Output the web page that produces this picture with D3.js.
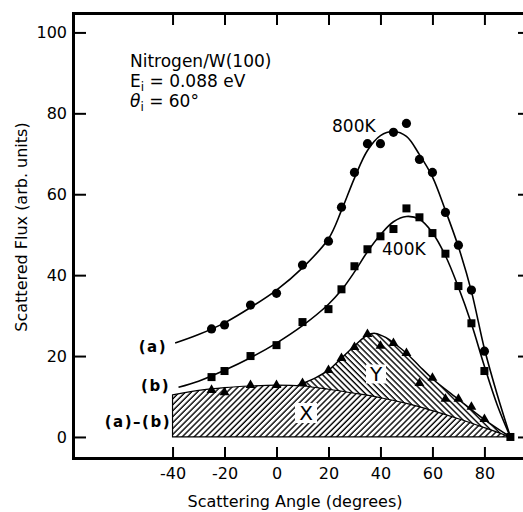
<!DOCTYPE html>
<html>
<head>
<meta charset="utf-8">
<script src="https://cdn.jsdelivr.net/npm/d3@7"></script>
<style>
  body { margin: 0; background: #fff; }
  text { font-family: "DejaVu Sans", sans-serif; fill: #000; }
</style>
</head>
<body>
<script>
const angles800 = [-25, -20, -10, 0, 10, 20, 25, 30, 35, 40, 45, 50, 55, 60, 65, 70, 75, 80];
const flux800 = [26.7, 27.7, 32.6, 35.5, 42.5, 48.4, 56.8, 65.4, 72.5, 72.5, 75.3, 77.5, 68.6, 65.4, 55.5, 47.4, 36.3, 21.2];

const angles400 = [-25, -20, -10, 0, 10, 20, 25, 30, 35, 40, 45, 50, 55, 60, 65, 70, 75, 80, 90];
const flux400 = [14.8, 16.3, 20, 22.7, 28.4, 31.6, 36.5, 42.2, 46.4, 49.6, 51.4, 56.5, 54.3, 50.4, 45.3, 37.3, 28.1, 16.3, 0];

const anglesDiff = [-25, -20, -10, 0, 10, 20, 25, 30, 35, 40, 45, 50, 55, 60, 65, 70, 75, 80];
const fluxDiff = [11.6, 11, 12.8, 12.8, 13.3, 16.5, 19.5, 22.2, 25.4, 22.5, 23.2, 20.7, 13.3, 14.6, 9.4, 9.4, 7.4, 4.4];

// Fitted curves (a), (b)
const fitAngles800 = [-39, -30, -20, -10, 0, 10, 20, 25, 30, 35, 40, 45, 50, 55, 60, 65, 70, 75, 80, 85, 90];
const fitFlux800 = [23.2, 25.3, 28.2, 32, 36.3, 41.8, 49, 56, 64, 70.8, 74.5, 75.5, 74.3, 69.8, 64.3, 56, 47, 36, 21.8, 10.3, 0];

const fitAngles400 = [-37.7, -30, -20, -10, 0, 10, 20, 25, 30, 35, 40, 45, 50, 55, 60, 65, 70, 75, 80, 85, 90];
const fitFlux400 = [12.3, 13.8, 16.5, 19.6, 23.2, 27.5, 32.8, 36.3, 40.8, 45.8, 50, 53.2, 54.5, 53.8, 50.5, 44.8, 37, 28, 17.5, 7.8, 0];

// Shaded regions X and Y (upper boundaries)
const xRegionAngles = [-40, -30, -20, -10, 0, 10, 20, 30, 40, 50, 60, 70, 80, 90];
const xRegionFlux = [10.4, 11.5, 12.2, 12.6, 12.8, 12.6, 11.8, 10.8, 9.7, 8.3, 6.5, 4.5, 2.3, 0];

const yRegionAngles = [8, 15, 20, 25, 30, 35, 38, 42, 46, 50, 55, 60, 70, 80, 90];
const yRegionFlux = [12.7, 14.6, 16.5, 19.5, 22.5, 25.2, 25.6, 24.6, 22.8, 20.7, 17.5, 14.4, 9.3, 4.3, 0];

const xTicks = [-40, -20, 0, 20, 40, 60, 80];
const yTicks = [0, 20, 40, 60, 80, 100];

const W = 523, H = 512;
const svg = d3.select("body").append("svg").attr("width", W).attr("height", H);

const x = d3.scaleLinear().domain([-78.3, 96]).range([73, 526]);
const y = d3.scaleLinear().domain([-5.2, 104.8]).range([458, 13]);

const zip = (a, b) => a.map((d, i) => [d, b[i]]);

// hatch patterns
const defs = svg.append("defs");
function hatch(id, angle) {
  const p = defs.append("pattern")
    .attr("id", id)
    .attr("patternUnits", "userSpaceOnUse")
    .attr("width", 4.2).attr("height", 10)
    .attr("patternTransform", `rotate(${angle})`);
  p.append("line").attr("x1", 1).attr("y1", 0).attr("x2", 1).attr("y2", 10)
    .attr("stroke", "#000").attr("stroke-width", 1.4);
}
hatch("hatchX", 45);
hatch("hatchY", -45);

const line = d3.line().x(d => x(d[0])).y(d => y(d[1])).curve(d3.curveCatmullRom);

// region X
const xPts = zip(xRegionAngles, xRegionFlux);
const areaX = d3.area().x(d => x(d[0])).y0(y(0)).y1(d => y(d[1])).curve(d3.curveCatmullRom);
svg.append("path").attr("d", areaX(xPts))
  .attr("fill", "url(#hatchX)").attr("stroke", "#000").attr("stroke-width", 1.2);

// region Y
const yPts = zip(yRegionAngles, yRegionFlux);
const xBack = xPts.filter(d => d[0] >= 10).reverse();
const yPath = line(yPts) + line(xBack).replace(/^M/, "L") + "Z";
svg.append("path").attr("d", yPath)
  .attr("fill", "url(#hatchY)").attr("stroke", "none");
svg.append("path").attr("d", line(yPts))
  .attr("fill", "none").attr("stroke", "#000").attr("stroke-width", 1.5);

// fitted curves
svg.append("path").attr("d", line(zip(fitAngles800, fitFlux800)))
  .attr("fill", "none").attr("stroke", "#000").attr("stroke-width", 1.6);
svg.append("path").attr("d", line(zip(fitAngles400, fitFlux400)))
  .attr("fill", "none").attr("stroke", "#000").attr("stroke-width", 1.6);

// markers
svg.append("g").selectAll("circle")
  .data(zip(angles800, flux800)).join("circle")
  .attr("cx", d => x(d[0])).attr("cy", d => y(d[1])).attr("r", 4.6);

svg.append("g").selectAll("rect")
  .data(zip(angles400, flux400)).join("rect")
  .attr("x", d => x(d[0]) - 4).attr("y", d => y(d[1]) - 4)
  .attr("width", 8).attr("height", 8);

const tri = d3.symbol().type(d3.symbolTriangle).size(42);
svg.append("g").selectAll("path")
  .data(zip(anglesDiff, fluxDiff)).join("path")
  .attr("transform", d => `translate(${x(d[0])},${y(d[1])})`)
  .attr("d", tri);

// axes
function styleAxis(g) {
  g.select(".domain").attr("stroke-width", 3).attr("stroke-linecap", "square");
  g.selectAll(".tick line").attr("stroke-width", 2);
  g.selectAll(".tick text").attr("font-size", 16)
    .attr("font-family", "DejaVu Sans, sans-serif");
}

svg.append("g").attr("transform", `translate(0,${y.range()[0]})`)
  .call(d3.axisBottom(x).tickValues(xTicks).tickSizeInner(-11).tickSizeOuter(0)
    .tickPadding(10).tickFormat(d => String(d)))
  .call(styleAxis);

svg.append("g").attr("transform", `translate(0,${y.range()[1]})`)
  .call(d3.axisTop(x).tickValues(xTicks).tickSizeInner(-12).tickSizeOuter(0).tickFormat(""))
  .call(styleAxis);

svg.append("g").attr("transform", `translate(${x.range()[0]},0)`)
  .call(d3.axisLeft(y).tickValues(yTicks).tickSizeInner(-13).tickSizeOuter(0)
    .tickPadding(6).tickFormat(d => String(d)))
  .call(styleAxis);

svg.append("g").attr("transform", `translate(${x.range()[1]},0)`)
  .call(d3.axisLeft(y).tickValues(yTicks).tickSizeInner(8).tickSizeOuter(0).tickFormat(""))
  .call(styleAxis);

// axis titles
svg.append("text").attr("x", 295).attr("y", 507).attr("text-anchor", "middle")
  .attr("font-size", 16).text("Scattering Angle (degrees)");
svg.append("text").attr("transform", "translate(27,227) rotate(-90)")
  .attr("text-anchor", "middle").attr("font-size", 16).text("Scattered Flux (arb. units)");

// annotation block
svg.append("text").attr("x", 130).attr("y", 67).attr("font-size", 17).text("Nitrogen/W(100)");
const e = svg.append("text").attr("x", 130).attr("y", 87).attr("font-size", 17);
e.append("tspan").text("E");
e.append("tspan").attr("font-size", 12).attr("dy", 4).text("i");
e.append("tspan").attr("dy", -4).text(" = 0.088 eV");
const t = svg.append("text").attr("x", 130).attr("y", 107).attr("font-size", 17);
t.append("tspan").attr("font-style", "italic").text("θ");
t.append("tspan").attr("font-size", 12).attr("dy", 4).text("i");
t.append("tspan").attr("dy", -4).text(" = 60°");

// curve labels
svg.append("text").attr("x", 332).attr("y", 132).attr("font-size", 17).text("800K");
svg.append("text").attr("x", 382).attr("y", 255).attr("font-size", 17).text("400K");

function bold(txt, xx, yy) {
  svg.append("text").attr("x", xx).attr("y", yy).attr("text-anchor", "end")
    .attr("font-size", 15).attr("font-weight", "bold").attr("letter-spacing", 1.5)
    .text(txt);
}
bold("(a)", 167, 352);
bold("(b)", 170, 391);
bold("(a)–(b)", 171, 427);

// region labels with white boxes
function boxLabel(txt, cx, cy, w, h) {
  svg.append("rect").attr("x", cx - w / 2).attr("y", cy - h / 2)
    .attr("width", w).attr("height", h).attr("fill", "#fff");
  svg.append("text").attr("x", cx).attr("y", cy + 7).attr("text-anchor", "middle")
    .attr("font-size", 20).text(txt);
}
boxLabel("X", 306, 413, 22, 20);
boxLabel("Y", 376, 374, 20, 19);
</script>
</body>
</html>
